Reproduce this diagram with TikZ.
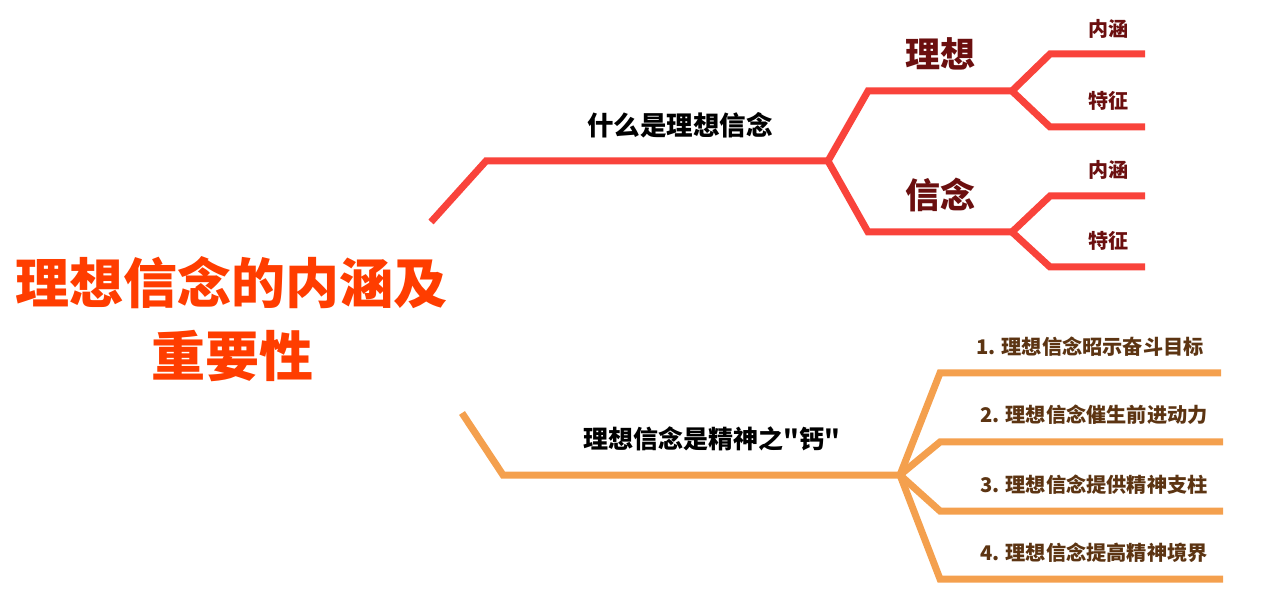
\documentclass[tikz,border=0pt]{standalone}
\usepackage{fontspec}
\setmainfont{Noto Sans CJK SC}
\newfontfamily\cjkplain{Noto Sans CJK SC}
\definecolor{redline}{HTML}{F9433B}
\definecolor{orangeline}{HTML}{F4A04E}
\definecolor{titlecol}{HTML}{FF3D00}
\definecolor{darkred}{HTML}{6B0F0F}
\definecolor{brown}{HTML}{5C3412}
\tikzset{
  redbranch/.style={draw=redline,line width=7pt,line join=miter},
  orangebranch/.style={draw=orangeline,line width=7pt,line join=miter},
  titletext/.style={font=\fontsize{54}{64}\selectfont\bfseries,text=titlecol,inner sep=0pt},
  maintext/.style={font=\fontsize{26.5}{31}\selectfont\bfseries,text=black,inner sep=0pt},
  subtext/.style={font=\fontsize{35}{42}\selectfont\bfseries,text=darkred,inner sep=0pt},
  leaftext/.style={font=\fontsize{20}{24}\selectfont\bfseries,text=darkred,inner sep=0pt},
  itemtext/.style={font=\fontsize{20.2}{24}\selectfont\bfseries,text=brown,inner sep=0pt}
}
\begin{document}
\begin{tikzpicture}[x=1pt,y=-1pt]
\useasboundingbox (0,0) rectangle (1272,601);
% title
\node[titletext] (t1) at (232,283) {理想信念的内涵及};
\node[titletext] (t2) at (232,356) {重要性};
% red branch coordinates
\coordinate (r0) at (431,222);
\coordinate (r1) at (486,161);
\coordinate (rj) at (828,161);
\coordinate (a1) at (868,91);
\coordinate (aj) at (1012,91);
\coordinate (b1) at (868,232);
\coordinate (bj) at (1012,232);
\coordinate (a11) at (1050,54);
\coordinate (a1e) at (1145,54);
\coordinate (a21) at (1050,127);
\coordinate (a2e) at (1145,127);
\coordinate (b11) at (1050,196);
\coordinate (b1e) at (1145,196);
\coordinate (b21) at (1050,267);
\coordinate (b2e) at (1145,267);
\path[redbranch] (r0) -- (r1) -- (rj);
\path[redbranch] (rj) -- (a1) -- (aj);
\path[redbranch] (rj) -- (b1) -- (bj);
\path[redbranch] (aj) -- (a11) -- (a1e);
\path[redbranch] (aj) -- (a21) -- (a2e);
\path[redbranch] (bj) -- (b11) -- (b1e);
\path[redbranch] (bj) -- (b21) -- (b2e);
\node[maintext] (m1) at (680,125) {什么是理想信念};
\node[subtext] (s1) at (940,54) {理想};
\node[subtext] (s2) at (940,195) {信念};
\node[leaftext] (l1) at (1108,29) {内涵};
\node[leaftext] (l2) at (1108,101) {特征};
\node[leaftext] (l3) at (1108,170) {内涵};
\node[leaftext] (l4) at (1108,241) {特征};
% orange branch
\coordinate (o0) at (462,413);
\coordinate (o1) at (503,475);
\coordinate (oj) at (900,475);
\coordinate (p1) at (940,373);
\coordinate (p1e) at (1221,373);
\coordinate (p2) at (940,442);
\coordinate (p2e) at (1223,442);
\coordinate (p3) at (940,511);
\coordinate (p3e) at (1223,511);
\coordinate (p4) at (940,579);
\coordinate (p4e) at (1223,579);
\path[orangebranch] (o0) -- (o1) -- (oj);
\path[orangebranch] (oj) -- (p1) -- (p1e);
\path[orangebranch] (oj) -- (p2) -- (p2e);
\path[orangebranch] (oj) -- (p3) -- (p3e);
\path[orangebranch] (oj) -- (p4) -- (p4e);
\node[maintext,font=\cjkplain\fontsize{25}{30}\selectfont\bfseries] (m2) at (712,439) {理想信念是精神之"钙"};
\node[itemtext] (i1) at (1090,347) {1. 理想信念昭示奋斗目标};
\node[itemtext] (i2) at (1094,415) {2. 理想信念催生前进动力};
\node[itemtext] (i3) at (1094,485) {3. 理想信念提供精神支柱};
\node[itemtext] (i4) at (1094,553) {4. 理想信念提高精神境界};
\end{tikzpicture}
\end{document}
